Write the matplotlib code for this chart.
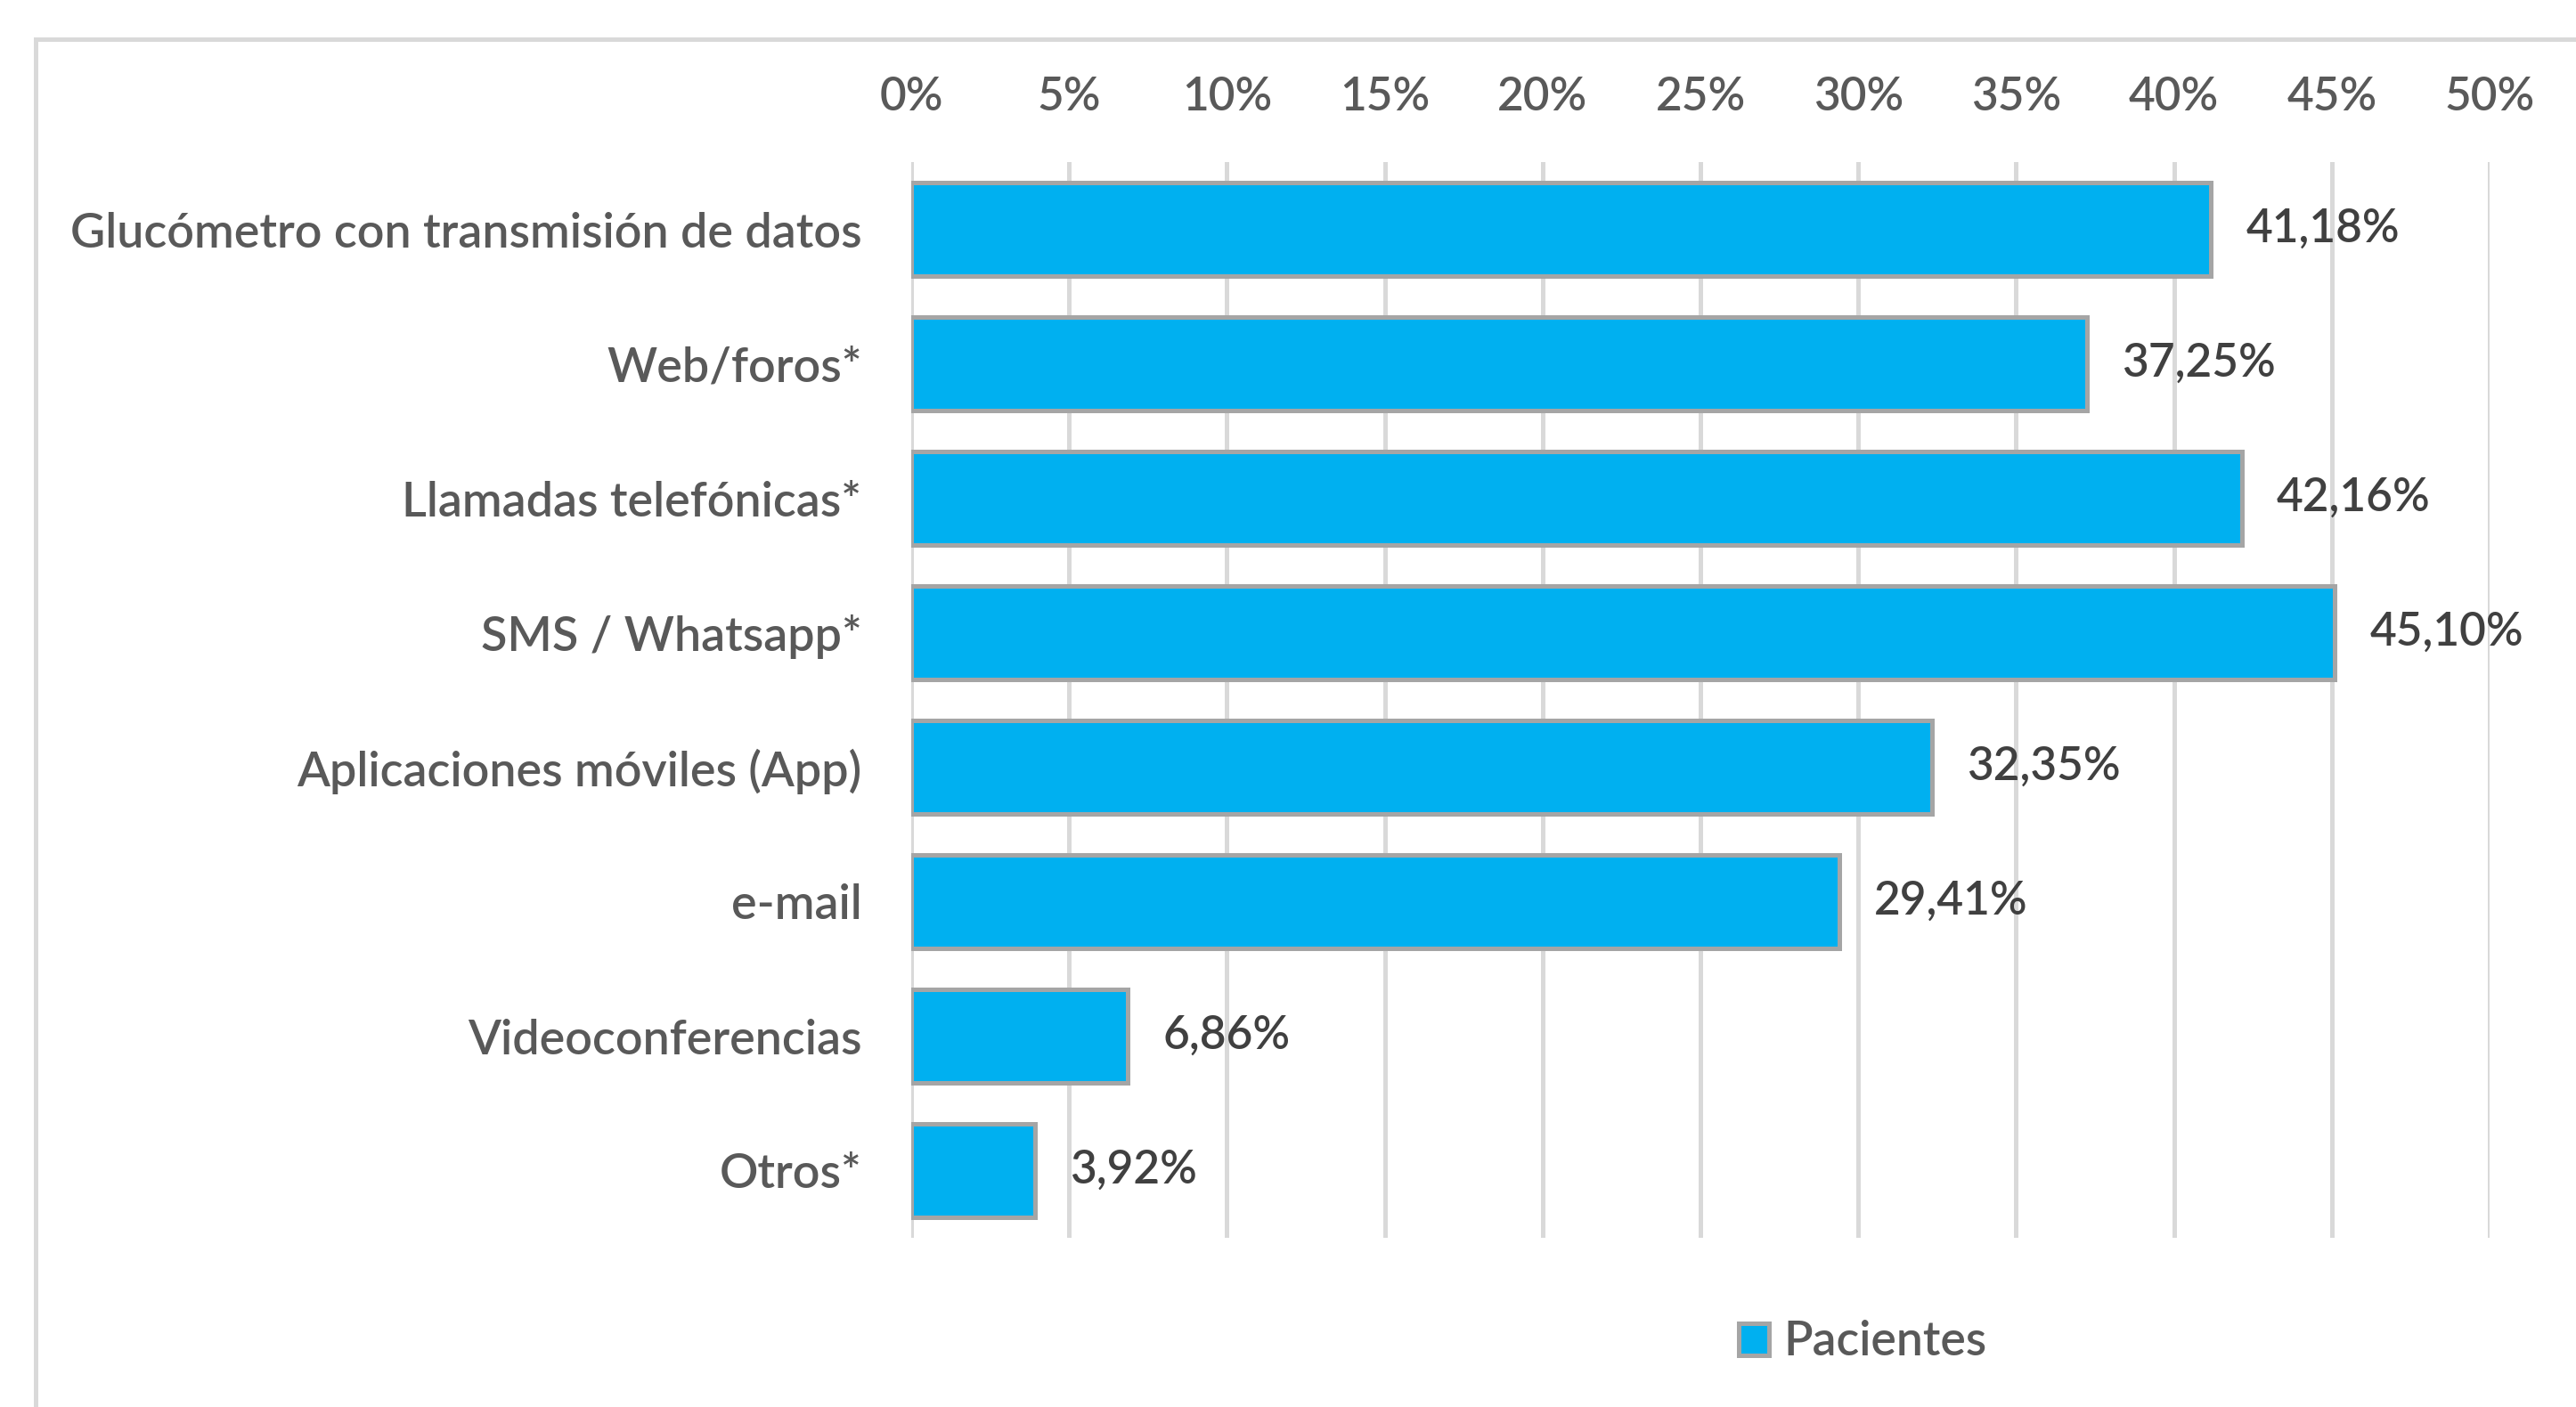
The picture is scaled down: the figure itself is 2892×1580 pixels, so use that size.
import matplotlib
matplotlib.use("Agg")
import matplotlib.pyplot as plt
from matplotlib.patches import Patch, Rectangle
from matplotlib.ticker import FuncFormatter

categories = [
    "Glucómetro con transmisión de datos",
    "Web/foros*",
    "Llamadas telefónicas*",
    "SMS / Whatsapp*",
    "Aplicaciones móviles (App)",
    "e-mail",
    "Videoconferencias",
    "Otros*",
]
values = [41.18, 37.25, 42.16, 45.10, 32.35, 29.41, 6.86, 3.92]
series_name = "Pacientes"
x_ticks = [0, 5, 10, 15, 20, 25, 30, 35, 40, 45, 50]

W, H = 2892, 1580
FS = 37
WT = 600
fig = plt.figure(figsize=(W / 100, H / 100), dpi=100)
plt.rcParams['font.family'] = ['Lato', 'DejaVu Sans']
plt.rcParams['font.weight'] = WT

# chart area frame (light gray, clipped on right/bottom)
fig.patches.append(Rectangle((40 / W, -0.1), 1.2, 1 - 44 / H + 0.1, transform=fig.transFigure,
                             fill=False, edgecolor="#D9D9D9", linewidth=3.6, zorder=0))

left, right = 1023 / W, 2795 / W
top, bottom = 1 - 182 / H, 1 - 1390 / H
ax = fig.add_axes([left, bottom, right - left, top - bottom])

y = list(range(len(categories)))
bars = ax.barh(y, values, height=0.7, color="#00B0F0", edgecolor="#A5A5A5", linewidth=3.6, zorder=3)
ax.set_ylim(len(categories) - 0.5, -0.5)
ax.set_xlim(0, 50)
ax.set_xticks(x_ticks)
ax.xaxis.set_major_formatter(FuncFormatter(lambda v, p: f"{int(v)}%"))
ax.xaxis.tick_top()
ax.set_yticks(y)
ax.set_yticklabels(categories, fontweight=WT)
for t in ax.get_xticklabels():
    t.set_fontweight(WT)

ax.grid(axis="x", color="#D9D9D9", linewidth=3.6, zorder=0)
ax.set_axisbelow(True)
for s in ax.spines.values():
    s.set_visible(False)
ax.tick_params(axis="x", length=0, pad=35, labelsize=FS, labelcolor="#595959")
ax.tick_params(axis="y", length=0, pad=40, labelsize=38.8, labelcolor="#595959")

labels = [f"{v:.2f}%".replace(".", ",") for v in values]
ax.bar_label(bars, labels=labels, padding=28, fontsize=FS, color="#404040", fontweight=WT)

handle = Patch(facecolor="#00B0F0", edgecolor="#A5A5A5", linewidth=3.6)
fig.legend([handle], [series_name], loc="center", bbox_to_anchor=(2091 / W, 1 - 1507 / H),
           frameon=False, prop={"size": 38.5, "weight": WT}, labelcolor="#595959",
           handlelength=0.65, handleheight=0.65, handletextpad=0.3)

fig.savefig("out.png", dpi=100, facecolor="white")
